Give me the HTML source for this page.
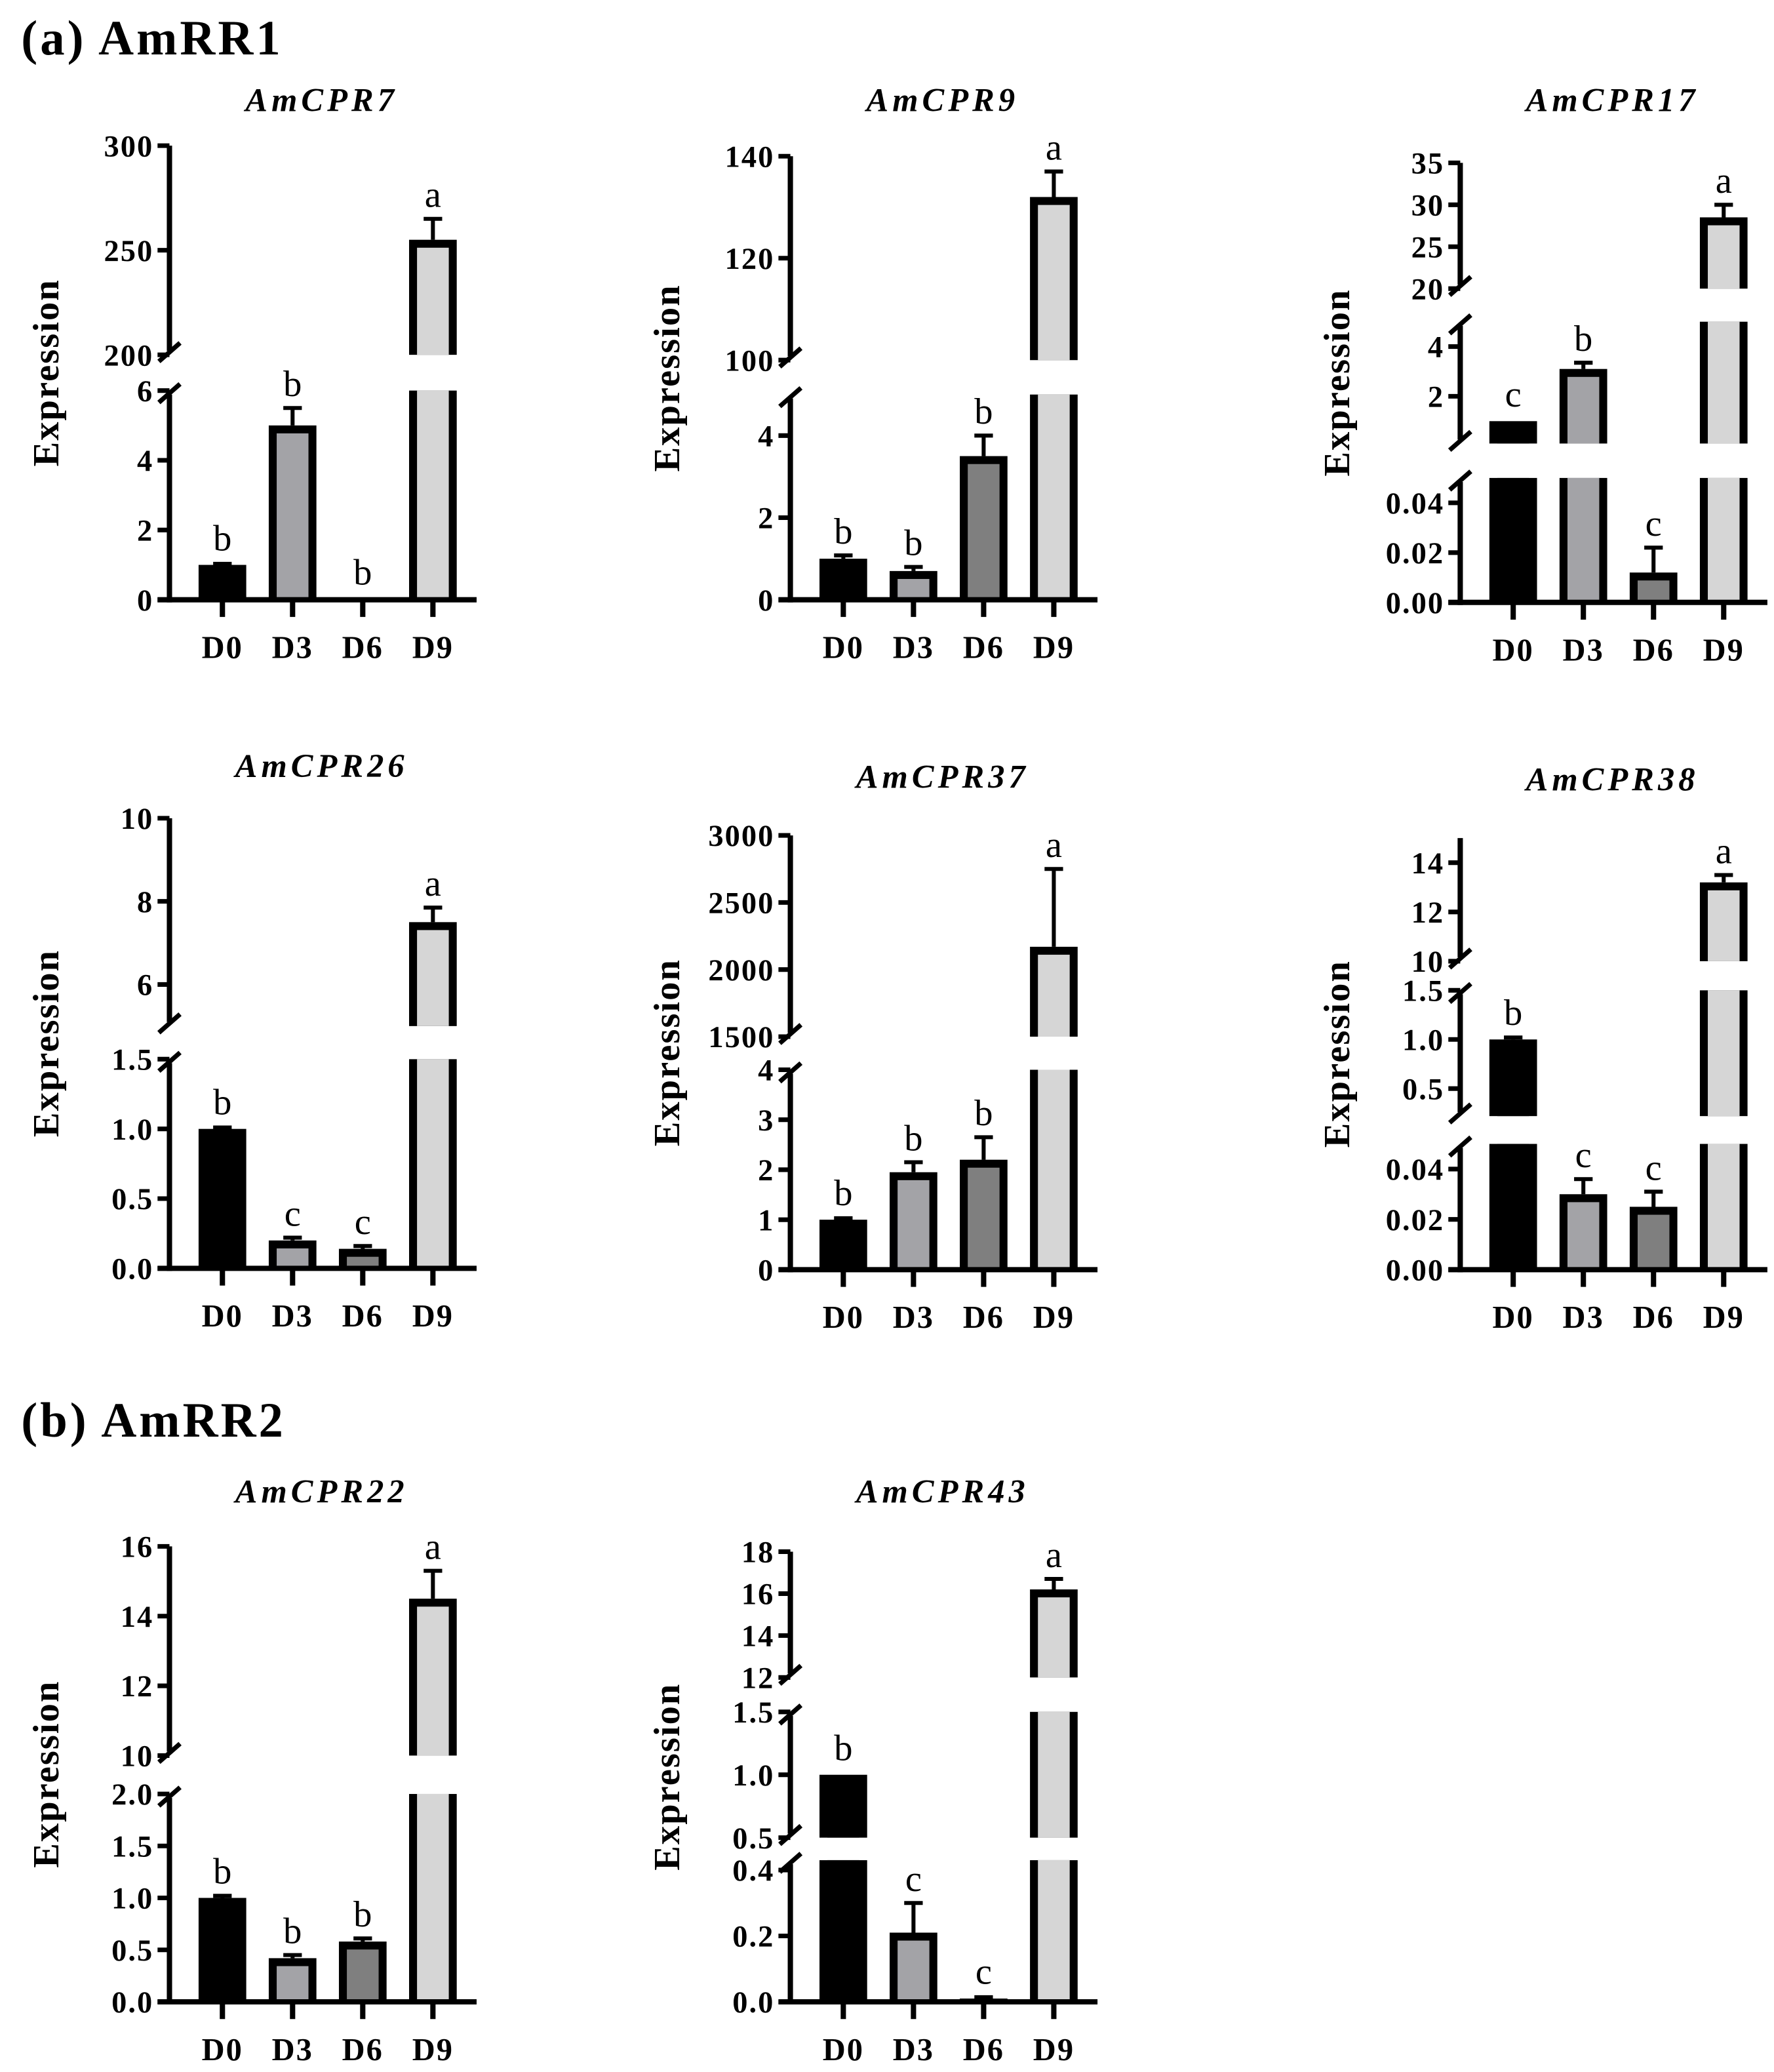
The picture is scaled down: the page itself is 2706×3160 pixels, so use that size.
<!DOCTYPE html>
<html><head><meta charset="utf-8">
<style>
html,body{margin:0;padding:0;background:#fff;}
svg{display:block;}
text{font-family:"Liberation Serif",serif;}
</style></head>
<body>
<svg id="fig" width="2706" height="3160" viewBox="0 0 1340 1565" preserveAspectRatio="none" xmlns="http://www.w3.org/2000/svg">
<text x="16" y="41" font-size="37" font-weight="bold" letter-spacing="2">(a) AmRR1</text>
<text x="16" y="1085" font-size="37" font-weight="bold" letter-spacing="2">(b) AmRR2</text>
<g id="charts"></g>
</svg>
<script>
const categories = ["D0", "D3", "D6", "D9"];
const fills = ["#000000", "#a3a3a7", "#7f7f7f", "#d6d6d6"];

const cpr7Values = [1.0, 5.0, 0.02, 255];
const cpr7Errors = [0.03, 0.5, 0.0, 10];
const cpr7Letters = ["b", "b", "b", "a"];
const cpr7Ticks = [0, 2, 4, 6, 200, 250, 300];

const cpr9Values = [1.0, 0.7, 3.5, 132];
const cpr9Errors = [0.08, 0.1, 0.5, 5];
const cpr9Letters = ["b", "b", "b", "a"];
const cpr9Ticks = [0, 2, 4, 100, 120, 140];

const cpr17Values = [1.0, 3.1, 0.012, 28.5];
const cpr17Errors = [0.0, 0.25, 0.01, 1.5];
const cpr17Letters = ["c", "b", "c", "a"];
const cpr17TickLabels = ["0.00", "0.02", "0.04", "2", "4", "20", "25", "30", "35"];
const cpr17Ticks = [0, 0.02, 0.04, 2, 4, 20, 25, 30, 35];

const cpr26Values = [1.0, 0.2, 0.14, 7.5];
const cpr26Errors = [0.01, 0.02, 0.02, 0.35];
const cpr26Letters = ["b", "c", "c", "a"];
const cpr26TickLabels = ["0.0", "0.5", "1.0", "1.5", "6", "8", "10"];
const cpr26Ticks = [0, 0.5, 1.0, 1.5, 6, 8, 10];

const cpr37Values = [1.0, 1.95, 2.2, 2170];
const cpr37Errors = [0.03, 0.2, 0.45, 580];
const cpr37Letters = ["b", "b", "b", "a"];
const cpr37Ticks = [0, 1, 2, 3, 4, 1500, 2000, 2500, 3000];

const cpr38Values = [1.0, 0.03, 0.025, 13.2];
const cpr38Errors = [0.02, 0.006, 0.006, 0.3];
const cpr38Letters = ["b", "c", "c", "a"];
const cpr38TickLabels = ["0.00", "0.02", "0.04", "0.5", "1.0", "1.5", "10", "12", "14"];
const cpr38Ticks = [0, 0.02, 0.04, 0.5, 1.0, 1.5, 10, 12, 14];

const cpr22Values = [1.0, 0.42, 0.58, 14.5];
const cpr22Errors = [0.02, 0.03, 0.03, 0.8];
const cpr22Letters = ["b", "b", "b", "a"];
const cpr22TickLabels = ["0.0", "0.5", "1.0", "1.5", "2.0", "10", "12", "14", "16"];
const cpr22Ticks = [0, 0.5, 1.0, 1.5, 2.0, 10, 12, 14, 16];

const cpr43Values = [1.0, 0.21, 0.01, 16.2];
const cpr43Errors = [0.0, 0.09, 0.004, 0.5];
const cpr43Letters = ["b", "c", "c", "a"];
const cpr43TickLabels = ["0.0", "0.2", "0.4", "0.5", "1.0", "1.5", "12", "14", "16", "18"];
const cpr43Ticks = [0, 0.2, 0.4, 0.5, 1.0, 1.5, 12, 14, 16, 18];

const NS = "http://www.w3.org/2000/svg";
const root = document.getElementById("charts");

function mk(tag, attrs, parent) {
  const e = document.createElementNS(NS, tag);
  for (const k in attrs) e.setAttribute(k, attrs[k]);
  (parent || root).appendChild(e);
  return e;
}

function drawChart(cfg) {
  const g = mk("g", {});
  
  
  const ax = cfg.ax, segs = cfg.segs;
  const y0 = segs[0][2];
  const axEnd = ax + 232;
  function segOf(v) {
    for (let i = segs.length - 1; i >= 0; i--) if (v >= segs[i][0]) return i;
    return 0;
  }
  function yScale(v) {
    const s = segs[segOf(v)];
    const t = (Math.min(v, s[1]) - s[0]) / (s[1] - s[0]);
    return s[2] + (s[3] - s[2]) * t;
  }
  const tt = mk("text", {x: ax + 115, y: cfg.titleY, "font-size": 25, "font-weight": "bold", "font-style": "italic", "text-anchor": "middle", "letter-spacing": "3"}, g);
  tt.textContent = cfg.title;
  
  
  const yc = (y0 + segs[segs.length - 1][3]) / 2;
  const yt = mk("text", {x: 0, y: 0, "font-size": 28, "font-weight": "bold", "text-anchor": "middle", "letter-spacing": "1", transform: "translate(" + (ax - 84) + "," + yc + ") rotate(-90)"}, g);
  yt.textContent = "Expression";
  
  
  const bw = 36, bs = 6;
  cfg.values.forEach((v, i) => {
    const cx = ax + 40 + i * 53;
    const bar = mk("g", {}, g);
    
    
    const top = segOf(v);
    for (let si = 0; si <= top; si++) {
      const s = segs[si];
      const yb = s[2];
      const ytop = si === top ? yScale(v) : s[3];
      if (yb - ytop <= 0.3) {
        mk("line", {x1: cx - bw / 2, x2: cx + bw / 2, y1: yb - 1, y2: yb - 1, stroke: "#000", "stroke-width": 2}, bar);
        continue;
      }
      mk("rect", {x: cx - bw / 2, y: ytop, width: bw, height: yb - ytop, fill: "#000"}, bar);
      const isTop = si === top;
      const inner = {x: cx - bw / 2 + bs, y: isTop ? ytop + bs : ytop, width: bw - 2 * bs, height: Math.max(0, yb - ytop - (isTop ? bs : 0))};
      inner.fill = fills[i];
      mk("rect", inner, bar);
    }
    const e = cfg.errors[i];
    const yv = yScale(v);
    let ye = yv;
    if (e > 0) {
      ye = yScale(v + e);
      const eg = mk("g", {}, g);
      
      
      mk("line", {x1: cx, x2: cx, y1: yv, y2: ye, stroke: "#000", "stroke-width": 3}, eg);
      mk("line", {x1: cx - 7, x2: cx + 7, y1: ye, y2: ye, stroke: "#000", "stroke-width": 3}, eg);
    }
    const lt = mk("text", {x: cx, y: Math.min(ye, yv - 2) - 9, "font-size": 28, "text-anchor": "middle"}, g);
    lt.textContent = cfg.letters[i];
    
    
    mk("line", {x1: cx, x2: cx, y1: y0, y2: y0 + 13, stroke: "#000", "stroke-width": 4}, g);
    const xl = mk("text", {x: cx, y: y0 + 44, "font-size": 24, "font-weight": "bold", "text-anchor": "middle", "letter-spacing": "1"}, g);
    xl.textContent = categories[i];
    
    
  });
  segs.forEach((s, si) => {
    const yTopAx = si === segs.length - 1 ? s[3] : s[3] + 3;
    mk("line", {x1: ax, x2: ax, y1: s[2] + (si === 0 ? 2 : -3), y2: yTopAx, stroke: "#000", "stroke-width": 4}, g);
    if (si > 0) {
      mk("line", {x1: ax - 8, x2: ax + 8, y1: s[2] - 2 + 7, y2: s[2] - 2 - 7, stroke: "#000", "stroke-width": 3.5}, g);
    }
    if (si < segs.length - 1) {
      mk("line", {x1: ax - 8, x2: ax + 8, y1: s[3] + 2 + 7, y2: s[3] + 2 - 7, stroke: "#000", "stroke-width": 3.5}, g);
    }
  });
  const xa = mk("line", {x1: ax - 9, x2: axEnd, y1: y0, y2: y0, stroke: "#000", "stroke-width": 4}, g);
  
  
  cfg.ticks.forEach((t, k) => {
    const y = yScale(t);
    mk("line", {x1: ax - 9, x2: ax, y1: y, y2: y, stroke: "#000", "stroke-width": 3.5}, g);
    const tl = mk("text", {x: ax - 12, y: y + 8, "font-size": 23, "font-weight": "bold", "text-anchor": "end", "letter-spacing": "1"}, g);
    tl.textContent = cfg.labels ? cfg.labels[k] : String(t);
    
    
  });
}

drawChart({name: "chart-amcpr7", title: "AmCPR7", ax: 128, titleY: 84, values: cpr7Values, errors: cpr7Errors, letters: cpr7Letters, ticks: cpr7Ticks,
  segs: [[0, 6, 453, 295], [200, 300, 268, 110]]});
drawChart({name: "chart-amcpr9", title: "AmCPR9", ax: 597, titleY: 84, values: cpr9Values, errors: cpr9Errors, letters: cpr9Letters, ticks: cpr9Ticks,
  segs: [[0, 5, 453, 298], [100, 140, 272, 118]]});
drawChart({name: "chart-amcpr17", title: "AmCPR17", ax: 1103, titleY: 84, values: cpr17Values, errors: cpr17Errors, letters: cpr17Letters, ticks: cpr17Ticks, labels: cpr17TickLabels,
  segs: [[0, 0.05, 455, 361], [0.1, 5, 335, 243], [20, 35, 218, 123]]});
drawChart({name: "chart-amcpr26", title: "AmCPR26", ax: 128, titleY: 587, values: cpr26Values, errors: cpr26Errors, letters: cpr26Letters, ticks: cpr26Ticks, labels: cpr26TickLabels,
  segs: [[0, 1.5, 958, 800], [5, 10, 775, 618]]});
drawChart({name: "chart-amcpr37", title: "AmCPR37", ax: 597, titleY: 595, values: cpr37Values, errors: cpr37Errors, letters: cpr37Letters, ticks: cpr37Ticks,
  segs: [[0, 4, 959, 808], [1500, 3000, 783, 631]]});
drawChart({name: "chart-amcpr38", title: "AmCPR38", ax: 1103, titleY: 597, values: cpr38Values, errors: cpr38Errors, letters: cpr38Letters, ticks: cpr38Ticks, labels: cpr38TickLabels,
  segs: [[0, 0.05, 959, 864], [0.22, 1.5, 843, 748], [10, 15, 726, 633]]});
drawChart({name: "chart-amcpr22", title: "AmCPR22", ax: 128, titleY: 1135, values: cpr22Values, errors: cpr22Errors, letters: cpr22Letters, ticks: cpr22Ticks, labels: cpr22TickLabels,
  segs: [[0, 2, 1512, 1355], [10, 16, 1326, 1168]]});
drawChart({name: "chart-amcpr43", title: "AmCPR43", ax: 597, titleY: 1135, values: cpr43Values, errors: cpr43Errors, letters: cpr43Letters, ticks: cpr43Ticks, labels: cpr43TickLabels,
  segs: [[0, 0.43, 1512, 1405], [0.5, 1.5, 1388, 1293], [12, 18, 1267, 1172]]});
</script>
</body></html>
